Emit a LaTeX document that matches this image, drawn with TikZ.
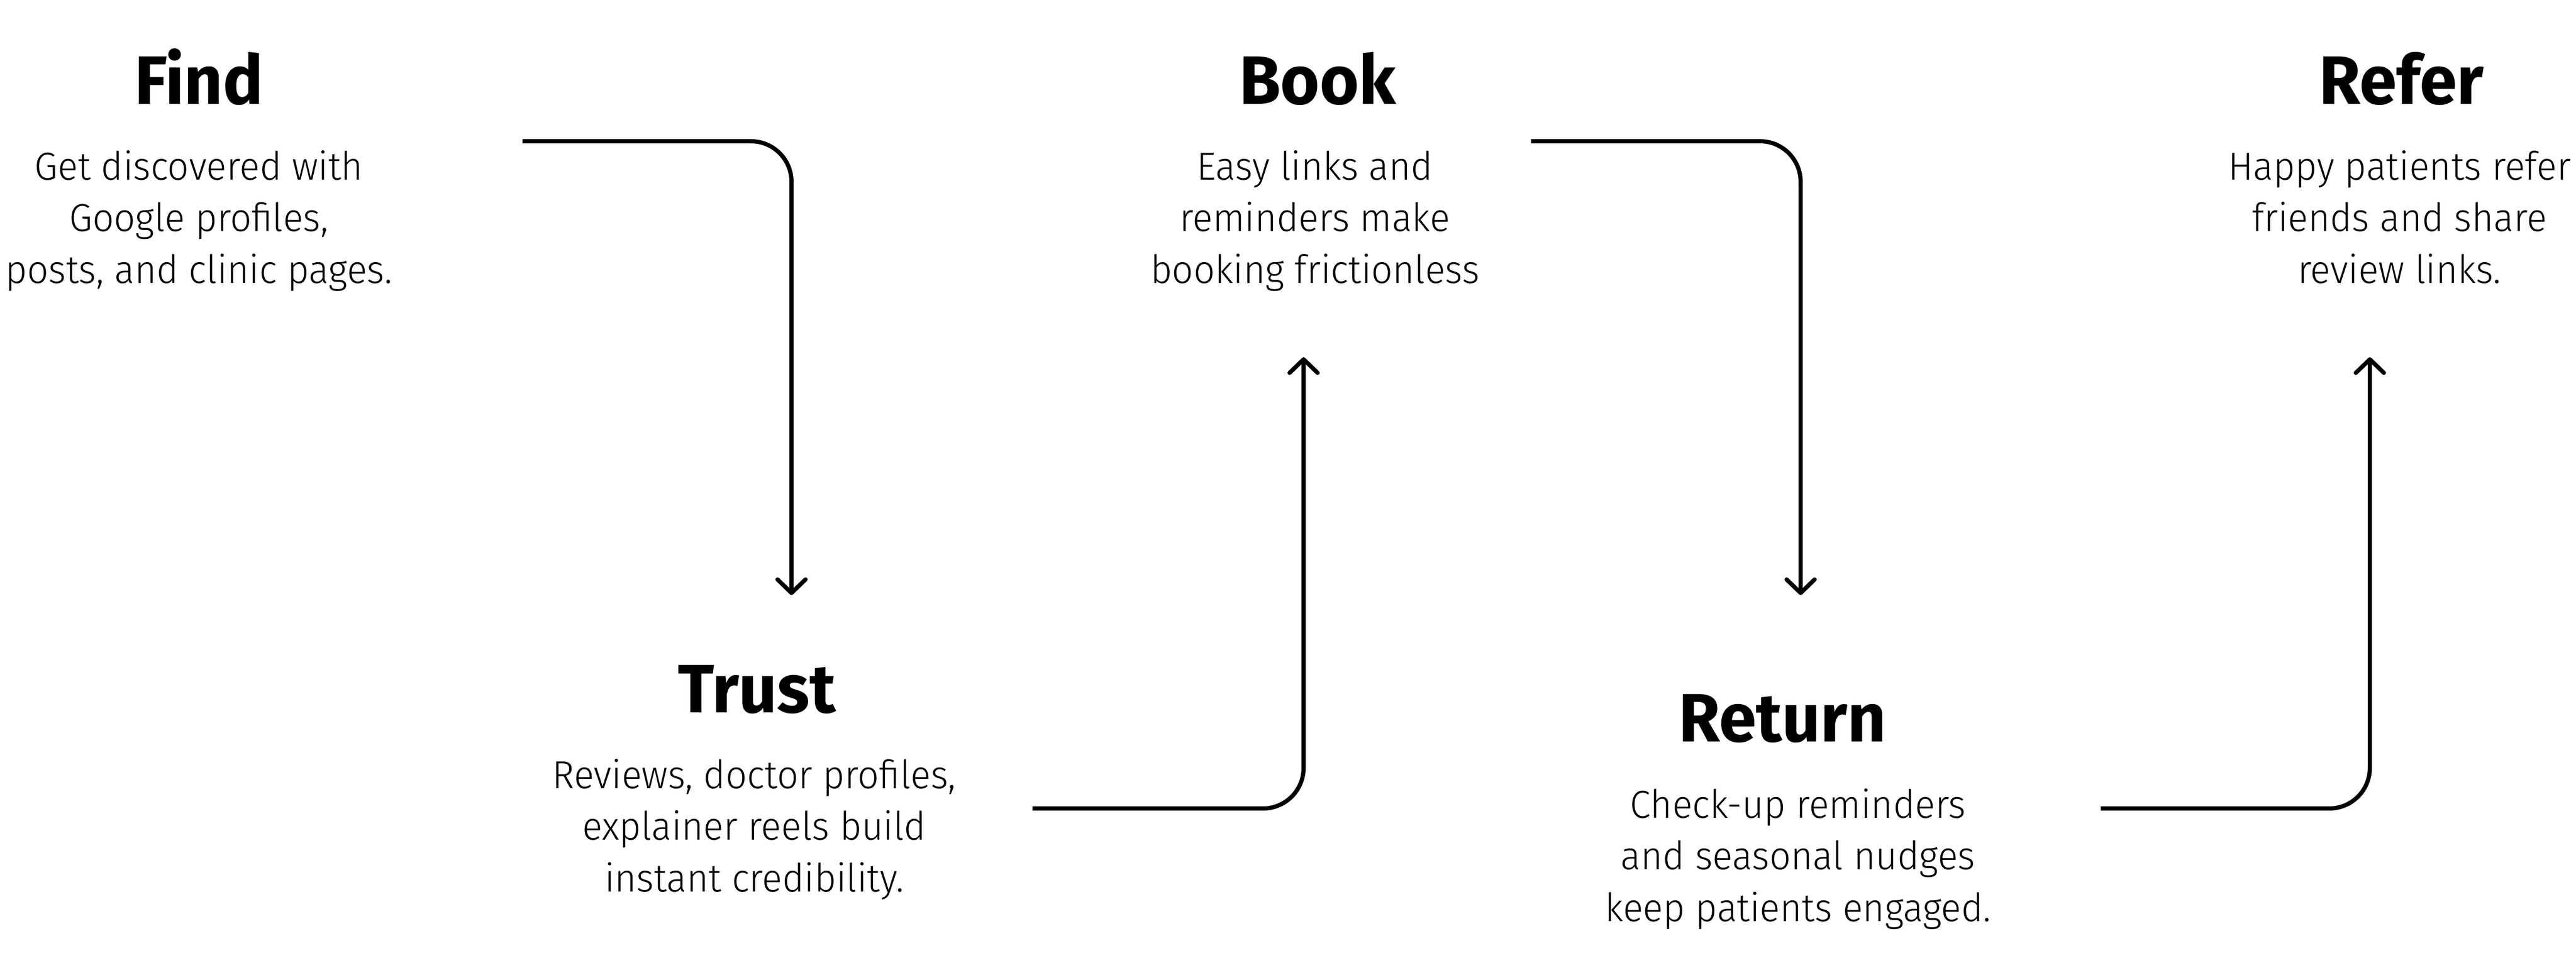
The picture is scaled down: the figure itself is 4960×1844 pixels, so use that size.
\documentclass[tikz,border=0pt]{standalone}
\usepackage{fontspec}
\usepackage{xcolor}
\usepackage{tikz}
\usetikzlibrary{arrows.meta}
\newfontfamily\headfont{Fira Sans Bold}[FakeStretch=0.98]
\newfontfamily\bodyfont{Fira Sans Light}[FakeStretch=0.96]
\definecolor{ink}{HTML}{000000}
\definecolor{paper}{HTML}{FFFFFF}
\tikzset{
  head/.style={text=ink, font=\headfont\fontsize{37.5}{40}\selectfont, inner sep=0pt, anchor=base},
  body/.style={text=ink, font=\bodyfont\fontsize{21.4}{28.2}\selectfont, align=center, inner sep=0pt, anchor=base},
  flow/.style={draw=ink, line width=2.3pt, rounded corners=0.78cm,
    -{Straight Barb[length=0.26cm,width=0.54cm,line cap=round,line join=round]}}
}

\begin{document}
\begin{tikzpicture}[x=0.01cm, y=-0.01cm]
  \fill[paper] (0,0) rectangle (4960,1844);
  \useasboundingbox (0,0) rectangle (4960,1844);

  % stages
  \node[head] (find)  at (383,200)   {Find};
  \node[head] (trust) at (1457,1372) {Trust};
  \node[head] (book)  at (2537,200)  {Book};
  \node[head] (ret)   at (3432,1428) {Return};
  \node[head] (refer) at (4624,200)  {Refer};

  % base = last line
  \node[body] (findtxt)  at (383,545)   {Get discovered with\\Google profiles,\\posts, and clinic pages.};
  \node[body] (trusttxt) at (1452,1717) {Reviews, doctor profiles,\\explainer reels build\\instant credibility.};
  \node[body] (booktxt)  at (2532,545)  {Easy links and\\reminders make\\booking frictionless};
  \node[body] (rettxt)   at (3462,1774) {Check-up reminders\\and seasonal nudges\\keep patients engaged.};
  \node[body] (refertxt) at (4620,545)  {Happy patients refer\\friends and share\\review links.};

  % connectors
  \coordinate (f2t) at (1006,272);  \coordinate (f2te) at (1524,1146);
  \coordinate (t2b) at (1988,1557); \coordinate (t2be) at (2510,688);
  \coordinate (b2r) at (2948,272);  \coordinate (b2re) at (3467,1146);
  \coordinate (r2f) at (4045,1557); \coordinate (r2fe) at (4563,688);

  \draw[flow] (f2t) -| (f2te);
  \draw[flow] (t2b) -| (t2be);
  \draw[flow] (b2r) -| (b2re);
  \draw[flow] (r2f) -| (r2fe);
\end{tikzpicture}
\end{document}
